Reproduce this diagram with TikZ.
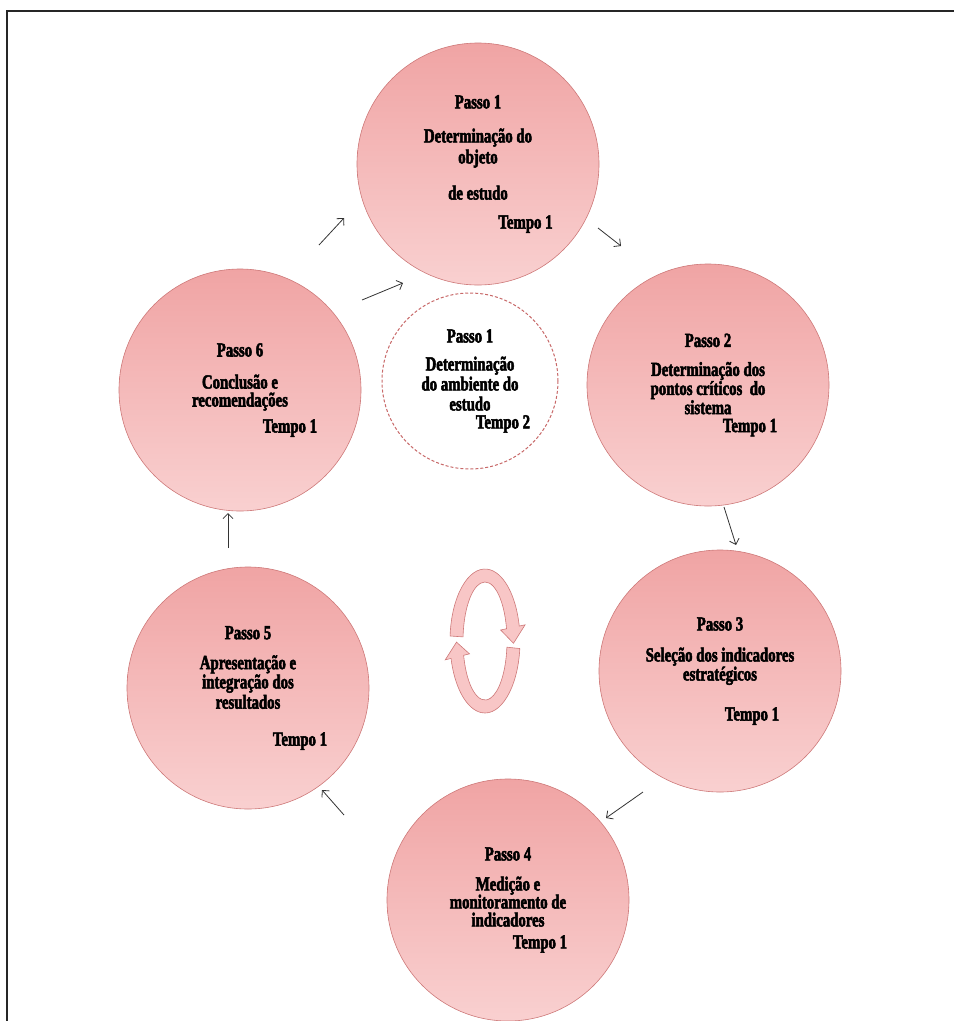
\documentclass[tikz,border=0pt]{standalone}
\usepackage{fontspec}
\newfontfamily\passofonte{Liberation Serif Bold}[FakeStretch=0.74, FakeBold=2.5]
\usetikzlibrary{arrows.meta,calc}

\definecolor{rosaborda}{RGB}{205,120,120}
\definecolor{rosatopo}{RGB}{240,164,164}
\definecolor{rosabase}{RGB}{249,208,208}
\definecolor{anel}{RGB}{248,198,198}
\definecolor{tracejado}{RGB}{200,105,105}

\begin{document}
\begin{tikzpicture}[x=1pt, y=1pt,
        passo/.style={circle, draw=rosaborda, line width=0.6pt, top color=rosatopo, bottom color=rosabase,
            minimum size=242pt, inner sep=0pt, align=center, font=\passofonte\fontsize{20}{18}\selectfont},
        ambiente/.style={circle, draw=tracejado, dash pattern=on 3pt off 2pt, line width=1pt, fill=white,
            minimum size=176pt, inner sep=0pt, align=center, font=\passofonte\fontsize{20}{18}\selectfont},
        flecha/.style={-{Straight Barb[length=5pt,width=10pt]}, line width=0.8pt, draw=black!80}]
        \useasboundingbox (0,0) rectangle (954,-1021);
        \draw[line width=2.4pt, black!85] (7,-1021) -- (7,-11) -- (954,-11);

        \node (p1) at (478,-164) [passo] {Passo 1\\[16pt]Determinação do\\[3pt]objeto\\[17pt]de estudo\\[11pt]\hspace*{95pt}Tempo 1};
        \node (amb) at (470,-381) [ambiente] {Passo 1\\[10pt]Determinação\\[2pt]do ambiente do\\[2pt]estudo\\\hspace*{66pt}Tempo 2};
        \node (p2) at (708,-385) [passo] {Passo 2\\[11pt]Determinação dos\\pontos críticos\ \ do\\sistema\\\hspace*{84pt}Tempo 1};
        \node (p3) at (720,-671) [passo] {Passo 3\\[13pt]Seleção dos indicadores\\estratégicos\\[22pt]\hspace*{64pt}Tempo 1};
        \node (p4) at (508,-900) [passo] {Passo 4\\[12pt]Medição e\\monitoramento de\\indicadores\\[4pt]\hspace*{64pt}Tempo 1};
        \node (p5) at (248,-688) [passo] {Passo 5\\[12pt]Apresentação e\\integração dos\\[1pt]resultados\\[19pt]\hspace*{104pt}Tempo 1};
        \node (p6) at (240,-390) [passo] {Passo 6\\[14pt]Conclusão e\\recomendações\\[8pt]\hspace*{100pt}Tempo 1};

        \draw[flecha] ($(p6)+(79,145)$) -- ($(p1)+(-134,-54)$);
        \draw[flecha] ($(p6)+(122,90)$) -- ($(amb)+(-67,98)$);
        \draw[flecha] ($(p1)+(120,-64)$) -- ($(p2)+(-87,139)$);
        \draw[flecha] ($(p2)+(16,-122)$) -- ($(p3)+(16,126)$);
        \draw[flecha] ($(p3)+(-77,-121)$) -- ($(p4)+(98,82)$);
        \draw[flecha] ($(p4)+(-164,85)$) -- ($(p5)+(74,-102)$);
        \draw[flecha] ($(p5)+(-20,140)$) -- ($(p6)+(-12,-123)$);

        % ciclo no meio
        \begin{scope}[shift={(485,-641)}, fill=anel, draw=rosaborda, line width=0.6pt]
            \filldraw (176:35 and 72) arc[start angle=176, end angle=12, x radius=35, y radius=72]
                -- (12:41 and 78) -- (-2:28.5 and 65.5) -- (12:16 and 53) -- (12:22 and 59)
                arc[start angle=12, end angle=176, x radius=22, y radius=59] -- cycle;
            \filldraw (-6:35 and 72) arc[start angle=-6, end angle=-166, x radius=35, y radius=72]
                -- (-166:41 and 78) -- (-179:28.5 and 65.5) -- (-166:16 and 53) -- (-166:22 and 59)
                arc[start angle=-166, end angle=-6, x radius=22, y radius=59] -- cycle;
        \end{scope}
    \end{tikzpicture}
\end{document}
